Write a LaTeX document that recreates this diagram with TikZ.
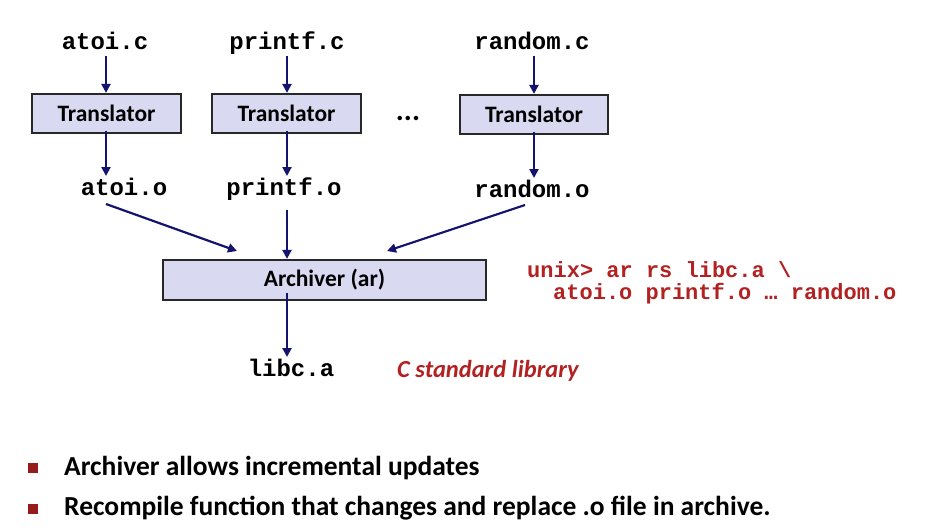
\documentclass[tikz,border=0pt]{standalone}
\usepackage{fontspec}
\setmainfont{Carlito}
\newfontfamily\codefont{Liberation Mono}
\usetikzlibrary{arrows.meta}
\definecolor{boxfill}{RGB}{217,217,242}
\definecolor{boxline}{RGB}{40,40,40}
\definecolor{arrowblue}{RGB}{20,20,110}
\definecolor{darkred}{RGB}{178,34,34}
\definecolor{bulletred}{RGB}{150,28,28}
\tikzset{
  file/.style={font=\codefont\bfseries\fontsize{24}{26}\selectfont, inner sep=0pt, anchor=base},
  procbox/.style={draw=boxline, line width=2.2pt, fill=boxfill, font=\bfseries\fontsize{23.5}{26}\selectfont, inner sep=0pt, anchor=center},
  flow/.style={draw=arrowblue, line width=2.2pt, -{Triangle[length=9pt,width=9pt]}},
  redcode/.style={font=\codefont\bfseries\fontsize{22}{24}\selectfont, text=darkred, inner sep=0pt, anchor=west},
  bullettext/.style={font=\bfseries\fontsize{27.5}{30}\selectfont, inner sep=0pt, anchor=west},
  bulletsq/.style={fill=bulletred, minimum size=10pt, inner sep=0pt, anchor=center}
}
\begin{document}
\begin{tikzpicture}[x=1pt,y=-1pt]
\useasboundingbox (0,0) rectangle (930,530);
% sources
\node[file] (ac) at (105,49) {atoi.c};
\node[file] (pc) at (287,49) {printf.c};
\node[file] (rc) at (532,49) {random.c};
% translators
\node[procbox, minimum width=149pt, minimum height=39pt] (t1) at (106.5,113.5) {Translator};
\node[procbox, minimum width=149pt, minimum height=39pt] (t2) at (286.5,113.5) {Translator};
\node[procbox, minimum width=148pt, minimum height=39pt] (t3) at (534,114.5) {Translator};
\node[font=\bfseries\fontsize{30}{32}\selectfont, inner sep=0pt, anchor=base] (dots) at (408,120) {...};
% objects
\node[file] (ao) at (124,195) {atoi.o};
\node[file] (po) at (284,195) {printf.o};
\node[file] (ro) at (532,197) {random.o};
% archiver
\node[procbox, minimum width=323pt, minimum height=40pt] (ar) at (324.5,280) {Archiver (ar)};
\node[file] (lib) at (291,376) {libc.a};
\node[font=\bfseries\itshape\fontsize{24.5}{26}\selectfont, text=darkred, inner sep=0pt, anchor=base west] (cstd) at (397,377) {C standard library};
% coordinates
\coordinate (a1) at (106,56);
\coordinate (a2) at (287,56);
\coordinate (a3) at (534,56);
\coordinate (ain) at (237,251);
\coordinate (rin) at (387,251);
\coordinate (aout) at (106,204);
\coordinate (rout) at (525,205);
% arrows
\draw[flow] (a1) -- (a1 |- t1.north);
\draw[flow] (a2) -- (a2 |- t2.north);
\draw[flow] (a3) -- (a3 |- t3.north);
\draw[flow] ([yshift=3pt]t1.south -| a1) -- (106,176);
\draw[flow] ([yshift=3pt]t2.south -| a2) -- (287,176);
\draw[flow] ([yshift=3pt]t3.south -| a3) -- (534,178);
\draw[flow] (aout) -- (ain);
\draw[flow] (287,210) -- (ar.north -| a2);
\draw[flow] (rout) -- (rin);
\draw[flow] ([yshift=8pt]ar.south -| a2) -- (287,357);
% command
\node[redcode] (cmd1) at (527,270) {unix> ar rs libc.a \textbackslash};
\node[redcode] (cmd2) at (553,294) {atoi.o printf.o … random.o};
% bullets
\node[bulletsq] (b1) at (33,468) {};
\node[bulletsq] (b2) at (33,509) {};
\node[bullettext] (bt1) at (64,468) {Archiver allows incremental updates};
\node[bullettext] (bt2) at (64,508) {Recompile function that changes and replace .o file in archive.};
\end{tikzpicture}
\end{document}
